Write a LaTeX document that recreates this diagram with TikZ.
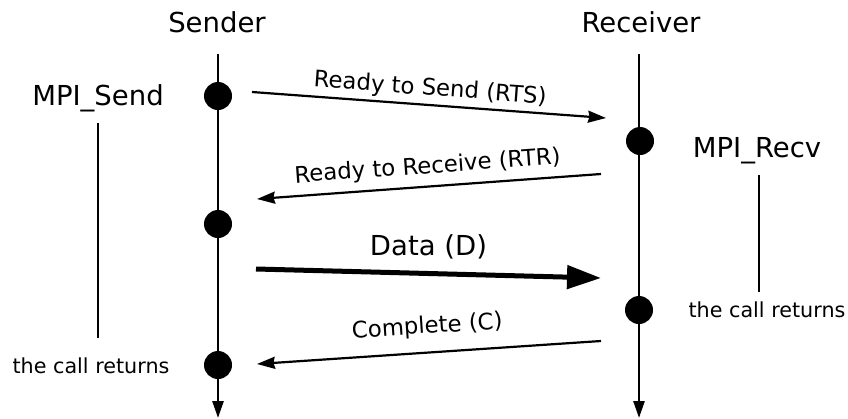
\documentclass[tikz,border=0pt]{standalone}
\usepackage{fontspec}
\setmainfont{DejaVu Sans}
\usetikzlibrary{arrows.meta}
\begin{document}
\begin{tikzpicture}[x=1pt,y=-1pt,
  life/.style={line width=2.6pt,-{Triangle[length=17pt,width=11pt]}},
  dot/.style={circle,fill,inner sep=0pt,minimum size=28pt},
  msg/.style={line width=2.2pt,-{Stealth[length=18pt,width=12pt,inset=1.5pt]}},
  lead/.style={line width=1.2pt},
  big/.style={font=\fontsize{27.5}{30}\selectfont},
  small/.style={font=\fontsize{22.8}{26}\selectfont},
  tiny/.style={font=\fontsize{20.7}{24}\selectfont}]
\useasboundingbox (0,0) rectangle (848,418);
% the two processes
\node[big,anchor=base] (sender) at (217,32) {Sender};
\node[big,anchor=base] (receiver) at (641,32) {Receiver};
\coordinate (stop) at (218,54); \coordinate (sbot) at (218,418);
\coordinate (rtop) at (639,54); \coordinate (rbot) at (639,418);
\draw[life] (stop) -- (sbot);
\draw[life] (rtop) -- (rbot);
\node[dot] (s1) at (218,96) {};
\node[dot] (s2) at (218,224) {};
\node[dot] (s3) at (218,365) {};
\node[dot] (r1) at (640,141) {};
\node[dot] (r2) at (639,310) {};
% messages
\coordinate (rts1) at (252,92); \coordinate (rts2) at (606,118);
\coordinate (rtr1) at (601,174); \coordinate (rtr2) at (257,199);
\coordinate (d1) at (256,269); \coordinate (d2) at (601,278);
\coordinate (c1) at (601,341); \coordinate (c2) at (257,364);
\draw[msg] (rts1) -- node[small,sloped,above=0.5pt] {Ready to Send (RTS)} (rts2);
\draw[msg] (rtr1) -- node[small,sloped,above=4pt] {Ready to Receive (RTR)} (rtr2);
\draw[line width=5pt,-{Triangle[length=34pt,width=23pt]}] (d1) -- node[big,above=9pt] {Data (D)} (d2);
\draw[msg] (c1) -- node[small,sloped,above=10pt] {Complete (C)} (c2);
% the calls
\node[big,anchor=base] (ms) at (98,105) {MPI\_Send};
\node[tiny,anchor=base] (ret1) at (91,373) {the call returns};
\node[big,anchor=base] (mr) at (757,157) {MPI\_Recv};
\node[tiny,anchor=base] (ret2) at (767,317) {the call returns};
\draw[lead,shorten <=8pt,shorten >=16pt] (ms.south) -- (ms.south |- ret1.north);
\draw[lead,shorten <=8pt,shorten >=6pt] ([xshift=2pt]mr.south) -- ([xshift=2pt]mr.south |- ret2.north);
\end{tikzpicture}
\end{document}
